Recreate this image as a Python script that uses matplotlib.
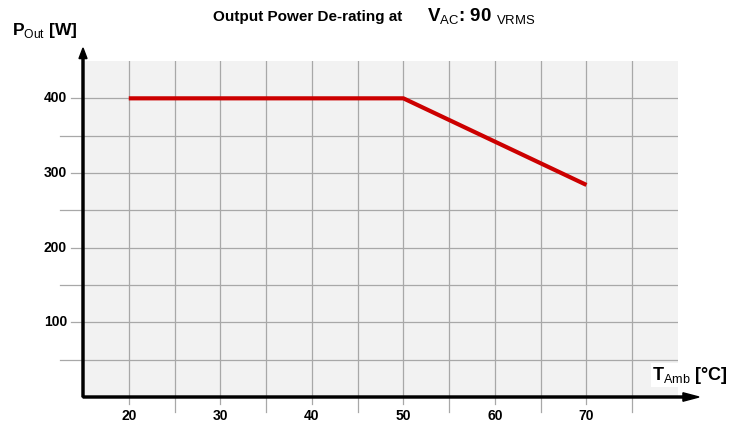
import matplotlib
matplotlib.use("Agg")
import matplotlib.pyplot as plt
from matplotlib import font_manager

temps = [20, 50, 70]
power = [400, 400, 284]
x_ticks = [20, 30, 40, 50, 60, 70]
y_ticks = [100, 200, 300, 400]

names = {f.name for f in font_manager.fontManager.ttflist}
fam = "Liberation Sans Narrow" if "Liberation Sans Narrow" in names else "Liberation Sans"
plt.rcParams["font.family"] = [fam, "DejaVu Sans"]
plt.rcParams["mathtext.fontset"] = "custom"
plt.rcParams["mathtext.rm"] = fam
plt.rcParams["mathtext.bf"] = fam + ":bold"

fig = plt.figure(figsize=(7.3, 4.23), dpi=100)
ax = fig.add_axes([83/730, 1-397/423, (678-83)/730, (397-61)/423])
ax.set_facecolor("#f2f2f2")
ax.set_xlim(15, 80)
ax.set_ylim(0, 450)

gc = "#a8a8a8"
for v in range(20, 80, 5):
    ax.axvline(v, color=gc, lw=0.9, zorder=1)
for v in range(50, 450, 50):
    ax.axhline(v, color=gc, lw=0.9, zorder=1)

# extensions beyond axes
trans_x = ax.get_xaxis_transform()
trans_y = ax.get_yaxis_transform()
for v in range(20, 80, 5):
    ext = 15/336 if v % 10 == 5 else 7/336
    ax.plot([v, v], [0, -ext], color=gc, lw=0.9, transform=trans_x, clip_on=False)
for v in range(50, 450, 50):
    ext = 23/595 if v % 100 == 50 else 12/595
    ax.plot([0, -ext], [v, v], color=gc, lw=0.9, transform=trans_y, clip_on=False)

ax.plot(temps, power, color="#cc0000", lw=3.0, solid_capstyle="butt", zorder=3)

for s in ax.spines.values():
    s.set_visible(False)
ax.set_xticks([])
ax.set_yticks([])

for v in x_ticks:
    ax.text(v, -19/336, str(v), transform=trans_x, ha="center", va="center",
            fontsize=10, fontweight="bold")
for v in y_ticks:
    ax.text(-16/595, v, str(v), transform=trans_y, ha="right", va="center",
            fontsize=10, fontweight="bold")

# axis arrows (figure pixel coords)
def fx(px):
    return px/730
def fy(py):
    return 1-py/423
fig.add_artist(matplotlib.patches.FancyArrow(fx(83), fy(397), 0, fy(48)-fy(397), width=0.0028,
               head_width=0.011, head_length=0.025, length_includes_head=True,
               color="black", transform=fig.transFigure))
fig.add_artist(matplotlib.patches.FancyArrow(fx(83), fy(397), fx(699)-fx(83), 0, width=0.0048,
               head_width=0.02, head_length=0.022, length_includes_head=True,
               color="black", transform=fig.transFigure))

fig.text(fx(213), fy(17), "Output Power De-rating at", ha="left", va="center",
         fontsize=11, fontweight="bold")
fig.text(fx(427), fy(17), r"V$_{\mathrm{AC}}$: 90 $_{\mathrm{VRMS}}$", ha="left", va="center",
         fontsize=13.5, fontweight="bold")
fig.text(fx(12), fy(31), r"P$_{\mathrm{Out}}$ [W]", ha="left", va="center",
         fontsize=12.5, fontweight="bold")
fig.text(fx(728), fy(375), r"T$_{\mathrm{Amb}}$ [°C]", ha="right", va="center",
         fontsize=13, fontweight="bold",
         bbox=dict(facecolor="white", edgecolor="none", pad=1.0))

fig.savefig("out.png", dpi=100)
